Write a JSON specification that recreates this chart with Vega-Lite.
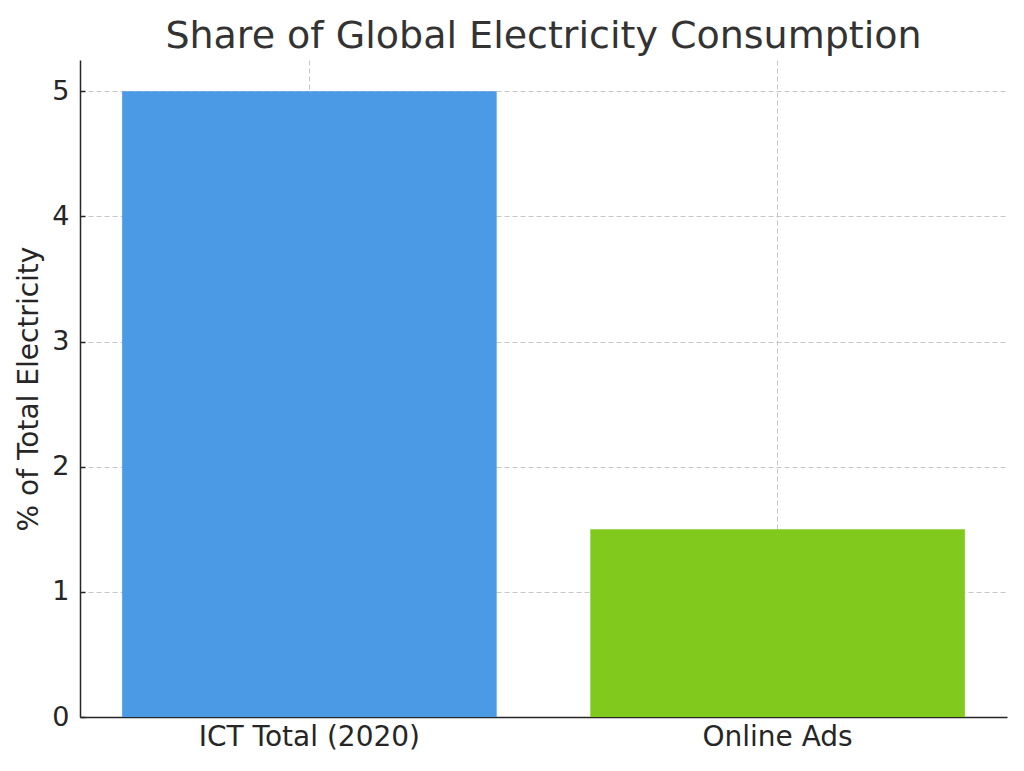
{
  "$schema": "https://vega.github.io/schema/vega-lite/v6.json",
  "autosize": "none",
  "width": 927,
  "height": 657,
  "padding": {"left": 80, "top": 60, "right": 17, "bottom": 54},
  "background": "white",
  "title": {
    "text": "Share of Global Electricity Consumption",
    "font": "DejaVu Sans",
    "fontSize": 38,
    "fontWeight": "normal",
    "color": "#333333",
    "anchor": "middle",
    "frame": "group",
    "baseline": "bottom",
    "offset": 5,
    "dy": 39
  },
  "data": {
    "values": [
      {"category": "ICT Total (2020)", "share": 5},
      {"category": "Online Ads", "share": 1.5}
    ]
  },
  "config": {
    "view": {"stroke": null},
    "axis": {
      "labelFont": "DejaVu Sans",
      "titleFont": "DejaVu Sans",
      "labelColor": "#262626",
      "titleColor": "#262626",
      "domainColor": "#262626",
      "tickColor": "#262626",
      "domainWidth": 1.5,
      "tickWidth": 1.5,
      "labelLimit": 0,
      "grid": true,
      "gridColor": "#b0b0b0",
      "gridOpacity": 0.7,
      "gridDash": [5, 3],
      "gridWidth": 1,
      "zindex": 1
    }
  },
  "mark": {"type": "bar"},
  "encoding": {
    "x": {
      "field": "category",
      "type": "nominal",
      "sort": null,
      "scale": {"paddingInner": 0.2, "paddingOuter": 0.09},
      "axis": {
        "title": null,
        "labelAngle": 0,
        "labelFontSize": 28,
        "labelPadding": 11,
        "tickSize": -5,
        "bandPosition": 0.5
      }
    },
    "y": {
      "field": "share",
      "type": "quantitative",
      "scale": {"domain": [0, 5.25], "nice": false},
      "axis": {
        "title": "% of Total Electricity",
        "titleFontSize": 28,
        "titleFontWeight": "normal",
        "titlePadding": 8,
        "labelFontSize": 27,
        "labelPadding": 16,
        "tickSize": -5,
        "values": [0, 1, 2, 3, 4, 5]
      }
    },
    "color": {
      "field": "category",
      "type": "nominal",
      "scale": {"range": ["#4a9ae6", "#82c91e"]},
      "legend": null
    }
  }
}
